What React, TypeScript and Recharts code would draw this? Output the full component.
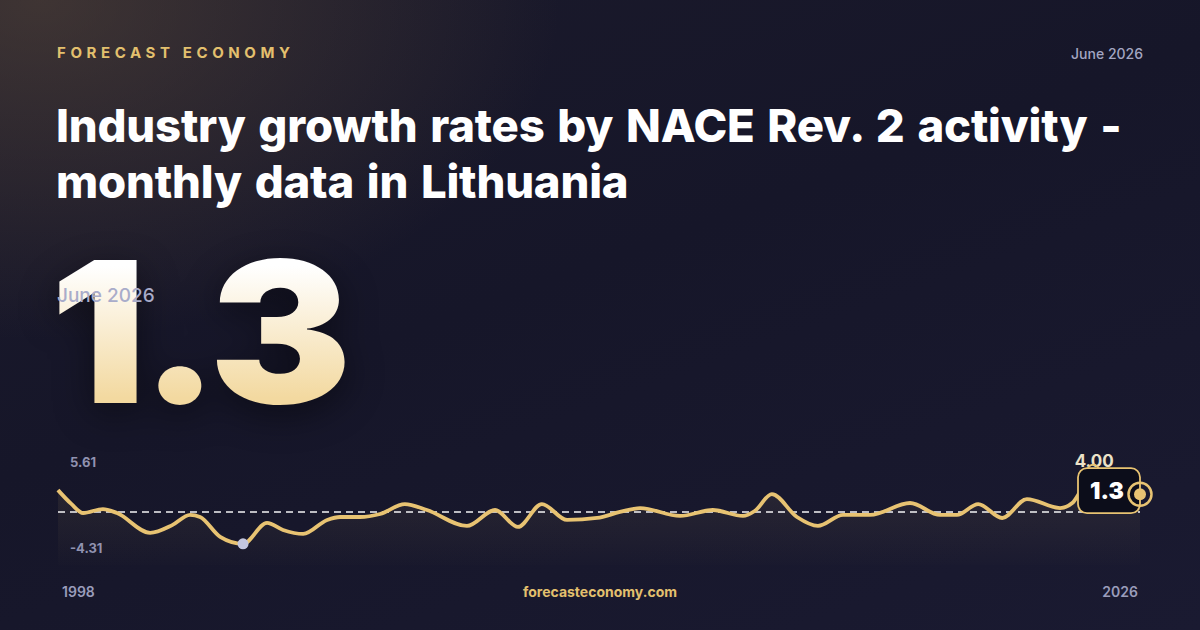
import React from 'react'
import { ComposedChart, Area, Line, XAxis, YAxis, ReferenceLine, ReferenceDot } from 'recharts'

// decimal year of each reading (1998 .. June 2026)
const years = [
  1998.0, 1998.35, 1998.66, 1999.18, 1999.55, 2000.42, 2001.0, 2001.47, 2001.73, 2002.26, 2002.86,
  2003.49, 2003.91, 2004.44, 2005.07, 2005.41, 2005.93, 2006.46, 2007.11, 2007.69, 2008.74,
  2009.48, 2010.08, 2010.71, 2011.37, 2012.16, 2012.76, 2013.29, 2014.34, 2015.2, 2015.99,
  2016.3, 2016.75, 2017.41, 2017.96, 2018.62, 2019.33, 2020.38, 2021.17, 2021.61, 2022.17,
  2022.8, 2023.45, 2024.32, 2024.64, 2024.85, 2025.19, 2025.8, 2026.42,
]
// growth rate, %
const values = [
  1.76, 0.2, -0.83, -0.38, -0.83, -3.07, -2.2, -1.05, -1.28, -3.52, -4.31,
  -1.95, -2.74, -3.19, -1.61, -1.28, -1.28, -0.94, 0.18, -0.49, -2.29,
  -0.49, -2.4, 0.18, -1.61, -1.39, -0.71, -0.27, -1.16, -0.49, -1.16,
  -0.6, 1.31, -1.28, -2.29, -1.05, -1.05, 0.3, -1.05, -1.05, 0.18,
  -1.39, 0.75, -0.27, 0.3, 1.6, 4.0, 2.2, 1.3,
]
const yLabels = ['5.61', '-4.31']
const xLabels = ['1998', '2026']
const latest = '1.3'
const period = 'June 2026'
const refLevel = -0.71
const peakLabel = '4.00'

const data = years.map((t, i) => ({ t, v: values[i] }))
const minIdx = values.indexOf(Math.min(...values))
const peakIdx = values.indexOf(Math.max(...values))
const last = data[data.length - 1]

const GOLD = '#e8c372'
const FONT = 'Inter, "Noto Sans", sans-serif'

const EndMarker = (props: any) => {
  const { cx, cy } = props
  return (
    <g>
      <rect x={cx - 62} y={cy - 26} width={62} height={45} rx={9} fill="#0c0d1a" stroke={GOLD} strokeWidth={1.8} />
      <text x={cx - 33} y={cy + 5} textAnchor="middle" fill="#ffffff" fontFamily={FONT} fontWeight={900} fontSize={23}>
        {latest}
      </text>
      <circle cx={cx} cy={cy} r={11.5} fill="none" stroke={GOLD} strokeWidth={2.5} />
      <circle cx={cx} cy={cy} r={6} fill={GOLD} />
    </g>
  )
}

const PeakMarker = (props: any) => {
  const { cx, cy } = props
  return (
    <g>
      <text x={cx + 1} y={cy - 3} textAnchor="middle" fill="#ece2c8" fontFamily={FONT} fontWeight={700} fontSize={17}>
        {peakLabel}
      </text>
      <circle cx={cx} cy={cy} r={5.5} fill="none" stroke={GOLD} strokeWidth={1.8} />
    </g>
  )
}

export default function App() {
  return (
    <div
      style={{
        position: 'absolute',
        left: 0,
        top: 0,
        width: 1200,
        height: 630,
        overflow: 'hidden',
        fontFamily: FONT,
        background:
          'radial-gradient(ellipse 520px 340px at 40px 0px, rgba(92,74,58,0.55), rgba(92,74,58,0) 100%), linear-gradient(160deg, #1b1a2b 0%, #161629 45%, #1a1a31 100%)',
      }}
    >
      <div style={{ position: 'absolute', left: 57, top: 43, color: '#e3c06e', fontSize: 15, fontWeight: 700, letterSpacing: 4.6 }}>
        FORECAST ECONOMY
      </div>
      <div style={{ position: 'absolute', right: 57, top: 45, color: '#a3a6c2', fontSize: 14, fontWeight: 500 }}>{period}</div>
      <div
        style={{
          position: 'absolute',
          left: 56,
          top: 98,
          width: 1130,
          color: '#ffffff',
          fontSize: 45.5,
          fontWeight: 800,
          lineHeight: '56px',
          letterSpacing: -0.2,
          wordSpacing: 3,
        }}
      >
        Industry growth rates by NACE Rev. 2 activity -<br />monthly data in Lithuania
      </div>
      <div
        style={{
          position: 'absolute',
          left: 50,
          top: 222,
          fontSize: 196,
          fontWeight: 900,
          lineHeight: '220px',
          letterSpacing: -6,
          transform: 'scaleX(1.09)',
          transformOrigin: '0 0',
          background: 'linear-gradient(180deg, #ffffff 20%, #f3d9a0 80%)',
          WebkitBackgroundClip: 'text',
          backgroundClip: 'text',
          color: 'transparent',
          filter: 'drop-shadow(0 10px 18px rgba(0,0,0,0.45))',
        }}
      >
        {latest}
      </div>
      <div style={{ position: 'absolute', left: 57, top: 284, color: '#a9acca', fontSize: 19, fontWeight: 500 }}>{period}</div>

      <div style={{ position: 'absolute', left: 0, top: 0 }}>
        <ComposedChart width={1200} height={630} data={data} margin={{ top: 456, right: 60, bottom: 65, left: 58 }}>
          <defs>
            <linearGradient id="fillGold" x1="0" y1="0" x2="0" y2="1">
              <stop offset="0%" stopColor={GOLD} stopOpacity={0.17} />
              <stop offset="100%" stopColor={GOLD} stopOpacity={0.01} />
            </linearGradient>
          </defs>
          <XAxis dataKey="t" type="number" domain={[1998, 2026.42]} hide />
          <YAxis type="number" domain={[-6.7, 5.61]} hide allowDataOverflow />
          <Area
            dataKey="v"
            type="monotone"
            baseValue="dataMin"
            stroke="none"
            fill="url(#fillGold)"
            isAnimationActive={false}
          />
          <ReferenceLine y={refLevel} stroke="#ffffff" strokeOpacity={0.95} strokeWidth={1.4} strokeDasharray="7 5" />
          <Line
            dataKey="v"
            type="monotone"
            stroke={GOLD}
            strokeWidth={3.8}
            dot={false}
            activeDot={false}
            isAnimationActive={false}
          />
          <ReferenceDot x={data[minIdx].t} y={data[minIdx].v} r={5.5} fill="#c4c7df" stroke="none" />
          <ReferenceDot x={data[peakIdx].t} y={data[peakIdx].v} shape={PeakMarker} />
          <ReferenceDot x={last.t} y={last.v} shape={EndMarker} />
        </ComposedChart>
      </div>

      <div style={{ position: 'absolute', left: 70, top: 454, color: '#9092b0', fontSize: 13, fontWeight: 700 }}>{yLabels[0]}</div>
      <div style={{ position: 'absolute', left: 70, top: 540, color: '#9092b0', fontSize: 13, fontWeight: 700 }}>{yLabels[1]}</div>
      <div style={{ position: 'absolute', left: 62, top: 583, color: '#9a9dbb', fontSize: 14, fontWeight: 600 }}>{xLabels[0]}</div>
      <div style={{ position: 'absolute', right: 62, top: 583, color: '#9a9dbb', fontSize: 14, fontWeight: 600 }}>{xLabels[1]}</div>
      <div style={{ position: 'absolute', left: 0, width: 1200, top: 583, textAlign: 'center', color: '#e3c06e', fontSize: 14, fontWeight: 700 }}>
        forecasteconomy.com
      </div>
    </div>
  )
}
